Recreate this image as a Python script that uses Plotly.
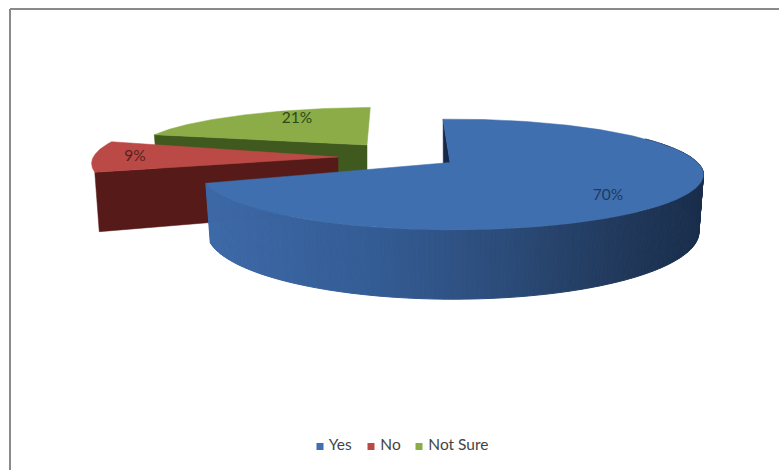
import numpy as np
import plotly.graph_objects as go

categories = ["Yes", "No", "Not Sure"]
values = [70, 9, 21]
top_colors = ["#3f6fae", "#bb4a47", "#8bac47"]
wall_colors = ["#1e3558", "#561a18", "#40591f"]
label_colors = ["#1d3a60", "#5a2020", "#2c4a18"]

# Projection settings per slice: rim centre, apex, width and height scales, label position
geometry = [
    dict(cx=453, cy=163, ax=450, ay=162.5, f=245, g=53, lx=608, ly=196.5),
    dict(cx=342, cy=152, ax=338, ay=157, f=245, g=53, lx=135, ly=157),
    dict(cx=380, cy=143, ax=367, ay=145, f=240, g=43, lx=297, ly=119),
]
P = 0.207
H = 55
T0 = -2.8
FONT = "Lato, 'Open Sans', sans-serif"


def rim(geo, a0, a1, n=120):
    t = np.radians(np.linspace(a0, a1, n))
    X, Y = np.sin(t), np.cos(t)
    D = 1 + P * Y
    return geo["cx"] + geo["f"] * X / D, geo["cy"] - geo["g"] * Y / D, D


def drop(geo, x, y, D):
    return geo["cx"] + (x - geo["cx"]) * 0.982, y + H / D


def poly(xs, ys, color, name, line=0.5):
    return go.Scatter(
        x=list(xs) + [xs[0]], y=list(ys) + [ys[0]], mode="lines", fill="toself",
        fillcolor=color, line=dict(color=color, width=line), name=name,
        hoverinfo="name", showlegend=False,
    )


def lerp(stops, u):
    u = max(0.0, min(1.0, u))
    xs = [s[0] for s in stops]
    return "rgb(%d,%d,%d)" % tuple(
        int(np.interp(u, xs, [s[1][i] for s in stops])) for i in range(3)
    )


fig = go.Figure()

# angular extents derived from the values
edges = T0 + np.cumsum([0] + values) * 3.6
spans = [(edges[i], edges[i + 1]) for i in range(3)]

# Not Sure (back)
i = 2
g = geometry[i]
x, y, D = rim(g, *spans[i])
bx, by = drop(g, x[0], y[0], D[0])
fig.add_trace(poly([x[0], g["ax"], g["ax"], bx], [y[0], g["ay"], g["ay"] + H, by], wall_colors[i], categories[i]))
fig.add_trace(poly(list(x) + [g["ax"]], list(y) + [g["ay"]], top_colors[i], categories[i]))

# No
i = 1
g = geometry[i]
x, y, D = rim(g, *spans[i])
bx, by = drop(g, x[0], y[0], D[0])
fig.add_trace(poly([x[0], g["ax"], g["ax"], bx], [y[0], g["ay"], g["ay"] + H, by], wall_colors[i], categories[i]))
fig.add_trace(poly(list(x) + [g["ax"]], list(y) + [g["ay"]], top_colors[i], categories[i]))

# Yes (front)
i = 0
g = geometry[i]
x, y, D = rim(g, *spans[i])
bx, by = drop(g, x[0], y[0], D[0])
fig.add_trace(poly([x[0], g["ax"], g["ax"], bx], [y[0], g["ay"], g["ay"] + H, by], "#17294a", categories[i]))

stops = [
    (0.0, (62, 106, 168)), (0.35, (52, 92, 148)), (0.6, (44, 76, 122)),
    (0.8, (35, 60, 96)), (1.0, (26, 46, 76)),
]
wx, wy, wD = rim(g, 60, spans[0][1], 200)
wbx, wby = drop(g, wx, wy, wD)
for k in range(len(wx) - 1):
    u = (0.5 * (wx[k] + wx[k + 1]) - 205) / (703 - 205)
    c = lerp(stops, u)
    fig.add_trace(poly([wx[k], wx[k + 1], wbx[k + 1], wbx[k]],
                       [wy[k], wy[k + 1], wby[k + 1], wby[k]], c, categories[i], line=1))
x, y, D = rim(g, *spans[0], 300)
fig.add_trace(poly(list(x) + [g["ax"]], list(y) + [g["ay"]], top_colors[i], categories[i]))

# Percentage labels
for cat, v, geo, col in zip(categories, values, geometry, label_colors):
    fig.add_trace(go.Scatter(
        x=[geo["lx"]], y=[geo["ly"]], mode="text", text=[f"{v}%"], showlegend=False,
        textfont=dict(family=FONT, size=15.5, color=col), hoverinfo="skip", name=cat,
    ))

# Key
key_x = [320, 371, 419]
key_y = 446.5
for cat, col, kx in zip(categories, top_colors, key_x):
    fig.add_trace(go.Scatter(
        x=[kx], y=[key_y], mode="markers+text", text=[" " + cat], textposition="middle right",
        marker=dict(symbol="square", size=7, color=col), showlegend=False, name=cat,
        textfont=dict(family=FONT, size=15.5, color="#444444"), hoverinfo="name",
    ))

fig.update_layout(
    width=779, height=470, margin=dict(l=0, r=0, t=0, b=0),
    paper_bgcolor="white", plot_bgcolor="white", showlegend=False,
    xaxis=dict(range=[0, 779], visible=False, fixedrange=True),
    yaxis=dict(range=[470, 0], visible=False, fixedrange=True),
    shapes=[
        dict(type="line", x0=10, x1=779, y0=9, y1=9, line=dict(color="#8a8a8a", width=2)),
        dict(type="line", x0=10, x1=10, y0=9, y1=470, line=dict(color="#8a8a8a", width=2)),
    ],
)
fig.write_html(
    "out.html",
    config={"displayModeBar": False},
    post_script="document.body.style.margin='0';document.body.style.overflow='hidden';",
)
